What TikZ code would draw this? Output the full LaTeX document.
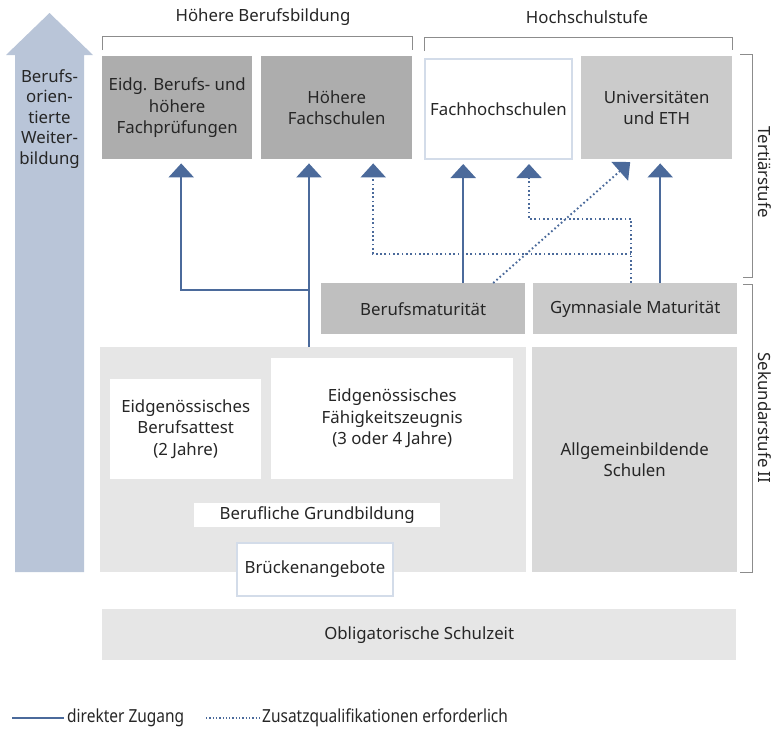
\documentclass[tikz,border=0pt]{standalone}
\usepackage{fontspec}
\setmainfont{Noto Sans}
\newfontfamily\schmal[FakeStretch=0.86]{Noto Sans}
\usetikzlibrary{arrows.meta}
\usetikzlibrary{calc}
\definecolor{zugang}{HTML}{4B6A9B}
\definecolor{weiter}{HTML}{B9C5D8}
\definecolor{rahmen}{HTML}{D3DCE9}
\definecolor{klammergrau}{HTML}{8C8C8C}
\definecolor{grauA}{HTML}{ADADAD}
\definecolor{grauB}{HTML}{BFBFBF}
\definecolor{grauC}{HTML}{CBCBCB}
\definecolor{grauD}{HTML}{D9D9D9}
\definecolor{grauE}{HTML}{E6E6E6}

\begin{document}
\begin{tikzpicture}[x=1pt,y=-1pt,
    feld/.style={anchor=north west, inner sep=0pt, align=center, text=black!85,
        font=\fontsize{16.8}{21.5}\selectfont},
    weiss/.style={feld, fill=white, draw=rahmen, line width=2pt},
    beschrift/.style={inner sep=0pt, align=center, text=black!85, font=\fontsize{16.8}{21.5}\selectfont},
    klammer/.style={draw=klammergrau, line width=0.9pt},
    direkt/.style={draw=zugang, line width=2.3pt, -{Triangle[width=25pt,length=14pt]}, shorten >=4pt},
    zusatz/.style={draw=zugang, line width=1.9pt, dash pattern=on 1.7pt off 2.6pt,
        -{Triangle[width=25pt,length=14pt]}, shorten >=4pt},
    legende/.style={anchor=west, inner sep=3pt, text=black!85, font=\schmal\fontsize{18}{20}\selectfont}]
    \useasboundingbox (0,0) rectangle (773,731);

    \fill[weiter] (15,572) -- (15,55) -- (6,55) -- (49.5,13) -- (93,55) -- (84,55) -- (84,572) -- cycle;
    \node[beschrift, font=\fontsize{16.8}{20.5}\selectfont] (bow) at (49.5,119) {Berufs-\\orien-\\tierte\\Weiter-\\bildung};

    \node[feld, fill=grauA, minimum width=150pt, minimum height=103pt] (ebp) at (102,56) {Eidg. Berufs- und\\höhere\\Fachprüfungen};
    \node[feld, fill=grauA, minimum width=151pt, minimum height=103pt] (hf) at (261,56) {Höhere\\Fachschulen};
    \node[weiss, minimum width=147pt, minimum height=100pt] (fh) at (424,58) {Fachhochschulen};
    \node[feld, fill=grauC, minimum width=151pt, minimum height=103pt] (uni) at (581,56) {Universitäten\\und ETH};

    \node[beschrift] (hbb) at (263,17) {Höhere Berufsbildung};
    \node[beschrift] (hss) at (587,17) {Hochschulstufe};
    \draw[klammer] ([yshift=6pt]ebp.north west) -- ++(0,-14) -| ([yshift=6pt]hf.north east);
    \draw[klammer] ([yshift=7pt]fh.north west) -- ++(0,-14) -| ([yshift=6pt]uni.north east);

    \node[feld, fill=grauB, minimum width=204pt, minimum height=51pt] (bm) at (321,283) {Berufsmaturität};
    \node[feld, fill=grauC, minimum width=204pt, minimum height=51pt] (gm) at (533,283) {Gymnasiale Maturität};

    \node[feld, fill=grauE, minimum width=426pt, minimum height=225pt] (gb) at (100,347) {};
    \node[feld, fill=grauD, minimum width=205pt, minimum height=225pt] (abs) at (532,347) {Allgemeinbildende\\Schulen};
    \node[feld, fill=white, minimum width=151pt, minimum height=100pt] (eba) at (110,379) {Eidgenössisches\\Berufsattest\\(2 Jahre)};
    \node[feld, fill=white, minimum width=242pt, minimum height=121pt] (efz) at (271,358) {Eidgenössisches\\Fähigkeitszeugnis\\(3 oder 4 Jahre)};
    \node[feld, fill=white, minimum width=246pt, minimum height=24pt] (gbl) at (194,503) {Berufliche Grundbildung};
    \node[weiss, minimum width=156pt, minimum height=53pt] (ba) at (236,542) {Brückenangebote};

    \node[feld, fill=grauE, minimum width=634pt, minimum height=51pt] (os) at (102,609) {Obligatorische Schulzeit};

    \draw[klammer] (740,54) -- (752,54) -- (752,277) -- (743,277);
    \draw[klammer] (743,284) -- (752,284) -- (752,572) -- (740,572);
    \node[beschrift, rotate=-90] (ts) at (765,172) {Tertiärstufe};
    \node[beschrift, rotate=-90] (sk) at (765,418) {Sekundarstufe II};

    \coordinate (gbA) at (309,347);
    \coordinate (gbB) at (309,290);
    \coordinate (bmA) at ([xshift=40pt]bm.north);
    \coordinate (bmB) at ([xshift=70pt]bm.north);
    \coordinate (gmA) at ([xshift=25pt]gm.north);
    \coordinate (gmB) at ([xshift=-4pt]gm.north);
    \draw[direkt] (gbA) -- (gbA |- hf.south);
    \draw[direkt] (gbB) -| ([xshift=4pt]ebp.south);
    \draw[direkt] (bmA) -- (bmA |- fh.south);
    \draw[direkt] (gmA) -- (gmA |- uni.south);
    \draw[zusatz] (gmB) -- ++(0,-64) -| ([xshift=30.5pt]fh.south);
    \draw[zusatz] ([yshift=29pt]gmB) -| ([xshift=36.5pt]hf.south);
    \draw[zusatz] (bmB) -- ([xshift=-23.5pt]uni.south);

    \coordinate (lgA) at (12,718);
    \coordinate (lgB) at (206,718);
    \node[legende] (lgd) at (64,718) {direkter Zugang};
    \node[legende] (lgz) at (259,718) {Zusatzqualifikationen erforderlich};
    \draw[draw=zugang, line width=2.3pt] (lgA) -- (lgd.west);
    \draw[draw=zugang, line width=1.5pt, dash pattern=on 1.3pt off 2pt] (lgB) -- (lgz.west);
\end{tikzpicture}
\end{document}
